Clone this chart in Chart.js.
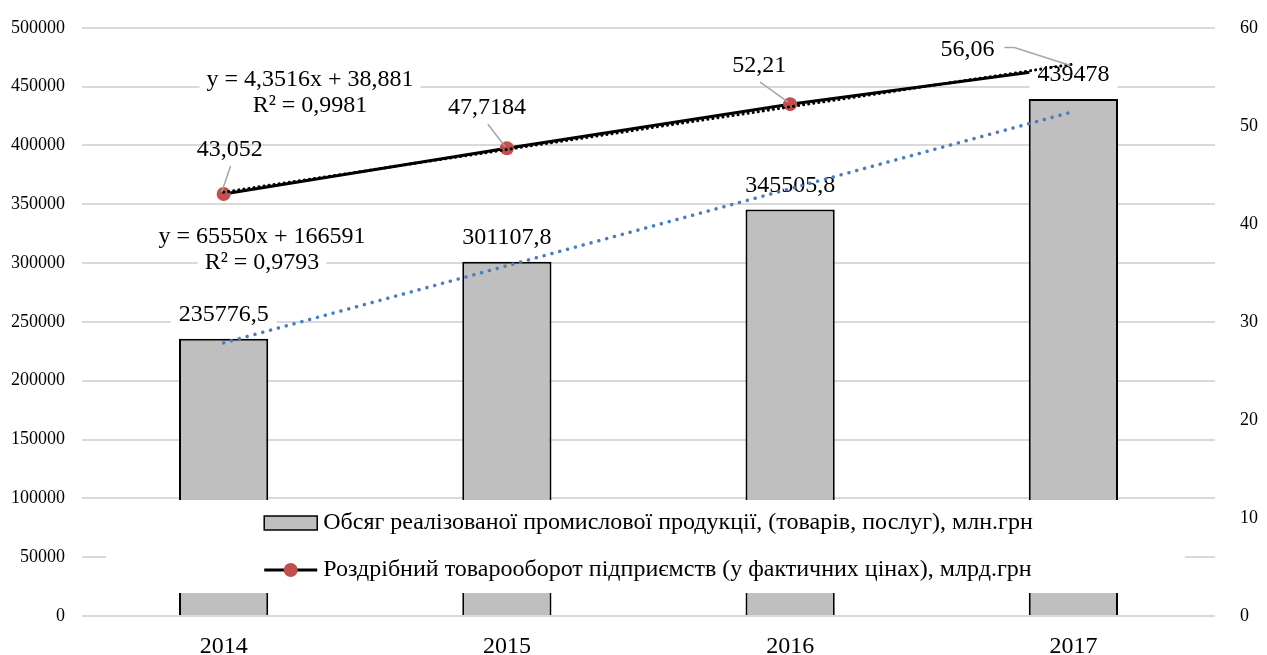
<!DOCTYPE html>
<html>
<head>
<meta charset="utf-8">
<script src="https://cdn.jsdelivr.net/npm/chart.js@4.4.1/dist/chart.umd.min.js"></script>
<style>
  html, body { margin: 0; padding: 0; background: #fff; }
  #wrap { width: 1267px; height: 655px; position: relative; }
</style>
</head>
<body>
<div id="wrap"><canvas id="chart"></canvas></div>
<script>
// data
const years = ['2014', '2015', '2016', '2017'];
const salesVolume = [235776.5, 301107.8, 345505.8, 439478];
const retailTurnover = [43.052, 47.7184, 52.21, 56.06];
// linear trend values at each year (from the equations shown on the chart)
const salesTrend = [232141, 297691, 363241, 428791];
const retailTrend = [43.233, 47.585, 51.936, 56.288];
const salesTrendText = ['y = 65550x + 166591', 'R² = 0,9793'];
const retailTrendText = ['y = 4,3516x + 38,881', 'R² = 0,9981'];
const leftTicks = [0, 50000, 100000, 150000, 200000, 250000, 300000, 350000, 400000, 450000, 500000];
const rightTicks = [0, 10, 20, 30, 40, 50, 60];

const SERIF = "'Liberation Serif', 'Times New Roman', serif";
const fmt = v => String(v).replace('.', ',');

function textBox(ctx, text, x, y, padX, h) {
  const w = ctx.measureText(text).width;
  ctx.fillStyle = '#fff';
  ctx.fillRect(x - w / 2 - padX, y - h / 2, w + padX * 2, h);
  ctx.fillStyle = '#000';
  ctx.fillText(text, x, y);
}

const labelsPlugin = {
  id: 'labelsPlugin',
  // bar labels go on top of the line series but under the trendlines
  afterDatasetDraw(chart, args) {
    if (args.index !== 1) return;
    const ctx = chart.ctx;
    const meta = chart.getDatasetMeta(0);
    ctx.save();
    ctx.font = '24px ' + SERIF;
    ctx.textAlign = 'center';
    ctx.textBaseline = 'middle';
    meta.data.forEach((bar, i) => {
      textBox(ctx, fmt(salesVolume[i]), bar.x, bar.y - 24, 8, 34);
    });
    ctx.restore();
  },
  afterDatasetsDraw(chart) {
    const ctx = chart.ctx;
    const area = chart.chartArea;
    const pts = chart.getDatasetMeta(1).data;
    ctx.save();
    ctx.font = '24px ' + SERIF;
    ctx.textAlign = 'center';
    ctx.textBaseline = 'middle';

    // point labels with leader lines
    const offs = [[6, -44], [-20, -40], [-31, -38], [-106, -17]];
    ctx.strokeStyle = '#a6a6a6';
    ctx.lineWidth = 1.5;
    pts.forEach((p, i) => {
      const lx = p.x + offs[i][0], ly = p.y + offs[i][1];
      ctx.beginPath();
      if (i === 3) {
        const w = ctx.measureText(fmt(retailTurnover[i])).width;
        ctx.moveTo(lx + w / 2 + 10, ly - 2);
        ctx.lineTo(lx + w / 2 + 20, ly - 2);
        ctx.lineTo(p.x - 3, p.y - 1);
      } else {
        ctx.moveTo(lx + 1, ly + 16);
        ctx.lineTo(p.x - 2, p.y - 2);
      }
      ctx.stroke();
      ctx.fillStyle = '#000';
      ctx.fillText(fmt(retailTurnover[i]), lx, ly);
    });

    // trend equations
    const eqs = [[retailTrendText, 310, 80], [salesTrendText, 262, 237]];
    eqs.forEach(([lines, x, y]) => {
      textBox(ctx, lines[0], x, y, 7, 26);
      textBox(ctx, lines[1], x, y + 26, 7, 26);
    });

    // legend inside the plot area
    const cx = (area.left + area.right) / 2;
    ctx.fillStyle = '#fff';
    ctx.fillRect(106, 500, 1079, 93);
    ctx.font = '24px ' + SERIF;
    ctx.textAlign = 'left';
    const ds = chart.data.datasets;
    const maxW = Math.max(ctx.measureText(ds[0].label).width, ctx.measureText(ds[1].label).width);
    const sx = cx - (53 + 6 + maxW) / 2;
    const r1 = 523, r2 = 570;
    ctx.fillStyle = '#bfbfbf';
    ctx.fillRect(sx, r1 - 7, 53, 14);
    ctx.strokeStyle = '#000';
    ctx.lineWidth = 1.5;
    ctx.strokeRect(sx, r1 - 7, 53, 14);
    ctx.lineWidth = 3;
    ctx.beginPath();
    ctx.moveTo(sx, r2);
    ctx.lineTo(sx + 53, r2);
    ctx.stroke();
    ctx.fillStyle = '#c0504d';
    ctx.beginPath();
    ctx.arc(sx + 26.5, r2, 7, 0, Math.PI * 2);
    ctx.fill();
    ctx.fillStyle = '#000';
    ctx.fillText(ds[0].label, sx + 59, r1);
    ctx.fillText(ds[1].label, sx + 59, r2);
    ctx.restore();
  }
};

new Chart(document.getElementById('chart'), {
  type: 'bar',
  data: {
    labels: years,
    datasets: [
      {
        type: 'bar',
        label: 'Обсяг реалізованої промислової продукції, (товарів, послуг), млн.грн',
        data: salesVolume,
        backgroundColor: '#bfbfbf',
        borderColor: '#000',
        borderWidth: 2,
        categoryPercentage: 0.35,
        barPercentage: 0.9,
        yAxisID: 'y',
        order: 4
      },
      {
        type: 'line',
        label: 'Роздрібний товарооборот підприємств (у фактичних цінах), млрд.грн',
        data: retailTurnover,
        borderColor: '#000',
        borderWidth: 3,
        pointRadius: 7,
        pointBorderWidth: 0,
        pointBackgroundColor: '#c0504d',
        yAxisID: 'y1',
        order: 3
      },
      {
        type: 'line',
        label: 'salesTrend',
        data: salesTrend,
        borderColor: '#4a7ebb',
        borderWidth: 3.5,
        borderDash: [0.1, 8],
        borderCapStyle: 'round',
        pointRadius: 0,
        yAxisID: 'y',
        order: 2
      },
      {
        type: 'line',
        label: 'retailTrend',
        data: retailTrend,
        borderColor: '#000',
        borderWidth: 3,
        borderDash: [0.1, 5],
        borderCapStyle: 'round',
        pointRadius: 0,
        yAxisID: 'y1',
        order: 1
      }
    ]
  },
  options: {
    responsive: true,
    maintainAspectRatio: false,
    animation: false,
    layout: { padding: { top: 26, left: 0, right: 0, bottom: 0 } },
    plugins: {
      legend: { display: false },
      tooltip: { enabled: false }
    },
    scales: {
      x: {
        grid: { display: false },
        border: { display: false },
        ticks: { color: '#000', font: { family: SERIF, size: 24 }, padding: 8 },
        afterFit: s => { s.height = 39; }
      },
      y: {
        position: 'left',
        min: 0,
        max: 500000,
        afterBuildTicks: s => { s.ticks = leftTicks.map(v => ({ value: v })); },
        grid: { color: '#d9d9d9', lineWidth: 2, drawTicks: false },
        border: { display: false },
        ticks: { color: '#000', font: { family: SERIF, size: 18 }, padding: 17, callback: v => String(v) },
        afterFit: s => { s.width = 82; }
      },
      y1: {
        position: 'right',
        min: 0,
        max: 60,
        afterBuildTicks: s => { s.ticks = rightTicks.map(v => ({ value: v })); },
        grid: { display: false },
        border: { display: false },
        ticks: { color: '#000', font: { family: SERIF, size: 18 }, padding: 17, callback: v => String(v) },
        afterFit: s => { s.width = 52; }
      }
    }
  },
  plugins: [labelsPlugin]
});
</script>
</body>
</html>
